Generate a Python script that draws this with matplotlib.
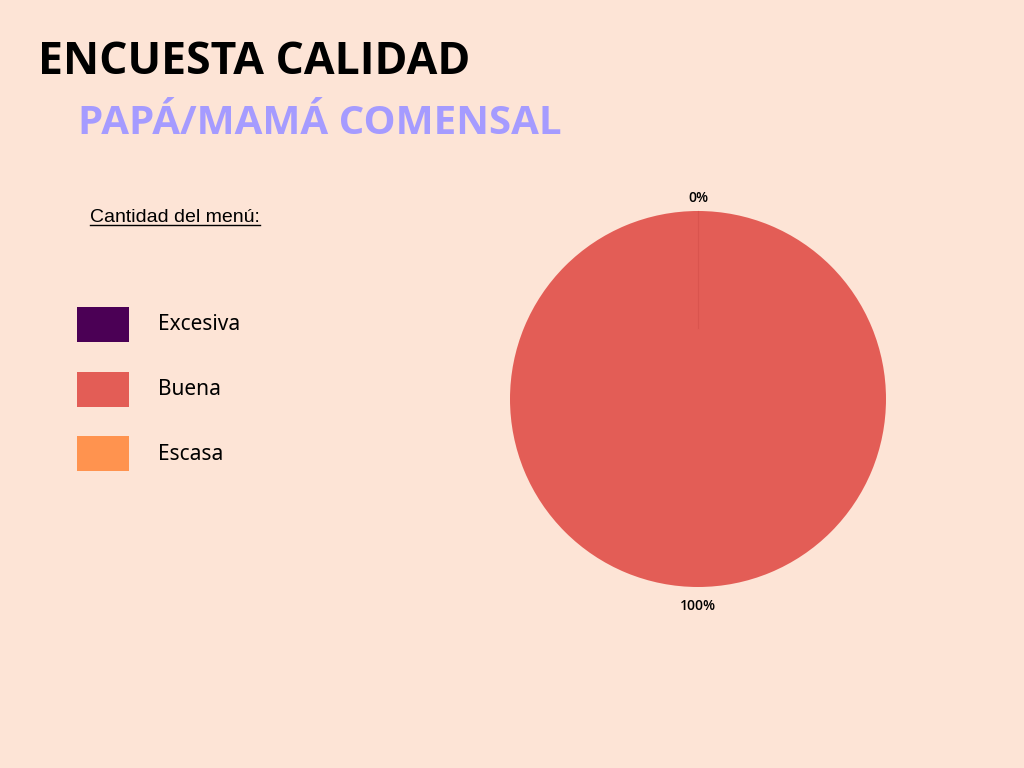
import matplotlib
matplotlib.use("Agg")
import matplotlib.pyplot as plt
from matplotlib.patches import Rectangle
from matplotlib.lines import Line2D

categories = ["Excesiva", "Buena", "Escasa"]
values = [0, 100, 0]
colors = ["#4B0055", "#E35D56", "#FF934F"]
bg = "#FDE4D6"

fig = plt.figure(figsize=(10.24, 7.68), dpi=100, facecolor=bg)

fig.text(38/1024, 1-62/768, "ENCUESTA CALIDAD", fontsize=32, fontweight="bold",
         family="Open Sans", color="black", va="center")
fig.text(78/1024, 1-124/768, "PAPÁ/MAMÁ COMENSAL", fontsize=29, fontweight="bold",
         family="Open Sans", color="#A59BFF", va="center")

t = fig.text(90/1024, 1-218/768, "Cantidad del menú:", fontsize=14,
             family="Liberation Sans", color="black", va="center")
fig.canvas.draw()
bb = t.get_window_extent().transformed(fig.transFigure.inverted())
fig.add_artist(Line2D([bb.x0, bb.x1], [bb.y0 + 0.002, bb.y0 + 0.002],
                      transform=fig.transFigure, color="black", lw=1))

for i, (cat, col) in enumerate(zip(categories, colors)):
    yc = 325 + i * 64.5
    fig.add_artist(Rectangle((77/1024, 1-(yc+17)/768), 52/1024, 35/768,
                             transform=fig.transFigure, facecolor=col, edgecolor="none"))
    fig.text(158/1024, 1-yc/768, cat, fontsize=15, family="Noto Sans",
             color="black", va="center")

cx, cy, r = 698, 399, 188
ax = fig.add_axes([(cx-1.3*r)/1024, 1-(cy+1.3*r)/768, 2.6*r/1024, 2.6*r/768])
ax.set_facecolor(bg)
wedges, _ = ax.pie(values, colors=colors, startangle=90, counterclock=False,
                   wedgeprops=dict(linewidth=0))
ax.plot([0, 0], [0.38, 1], color="#D9544E", lw=0.8)
ax.text(0, 1.07, "0%", ha="center", va="center", fontsize=10, family="Open Sans", fontweight="semibold")
ax.text(0, -1.1, "100%", ha="center", va="center", fontsize=10, family="Open Sans", fontweight="semibold")
ax.set_xlim(-1.3, 1.3)
ax.set_ylim(-1.3, 1.3)
ax.set_aspect("equal")
ax.axis("off")

fig.savefig("out.png", dpi=100, facecolor=bg)
